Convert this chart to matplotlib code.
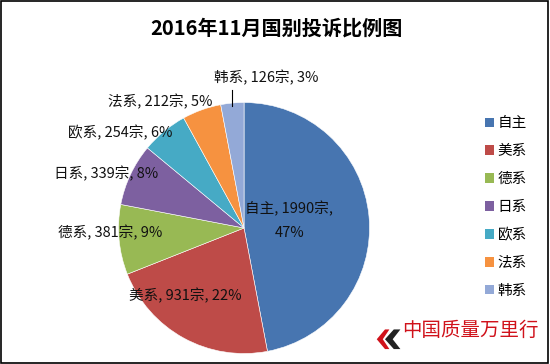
import matplotlib.pyplot as plt
from matplotlib.patches import Rectangle, Polygon

plt.rcParams['font.family'] = ['Noto Sans CJK SC', 'DejaVu Sans']

categories = ["自主", "美系", "德系", "日系", "欧系", "法系", "韩系"]
counts = [1990, 931, 381, 339, 254, 212, 126]
percents = [47, 22, 9, 8, 6, 5, 3]
colors = ["#4775b0", "#be4b48", "#98b954", "#7d60a0", "#46aac5", "#f69240", "#93a9d7"]
title = "2016年11月国别投诉比例图"

# label anchor points in pie data units (radius 1)
label_pos = [(0.36, 0.06), (-0.47, -0.54), (-1.07, -0.04), (-1.10, 0.43),
             (-0.99, 0.76), (-0.67, 1.01), (0.18, 1.20)]

fig = plt.figure(figsize=(5.5, 3.64), dpi=100)
ax = fig.add_axes([0.2155, 0.0288, 0.4564, 0.6896])
wedges, _ = ax.pie(counts, colors=colors, startangle=90, counterclock=False,
                   wedgeprops=dict(edgecolor="white", linewidth=0.4))
ax.set_xlim(-1, 1); ax.set_ylim(-1, 1)
ax.set_aspect("auto")

for name, n, p, (x, y) in zip(categories, counts, percents, label_pos):
    if name == "自主":
        text = f"{name}, {n}宗,\n{p}%"
    else:
        text = f"{name}, {n}宗, {p}%"
    ax.text(x, y, text, ha="center", va="center", fontsize=10.5, color="#111111",
            linespacing=1.9, clip_on=False)

# leader line for the smallest slice
ax.plot([-0.095, -0.095], [0.97, 1.10], color="black", lw=0.8, clip_on=False)

fig.text(0.502, 0.922, title, ha="center", va="center", fontsize=14.5, fontweight="bold")

handles = [Rectangle((0, 0), 1, 1, facecolor=c) for c in colors]
fig.legend(handles, categories, loc="upper left", bbox_to_anchor=(0.868, 0.700),
           frameon=False, fontsize=10.5, handlelength=0.65, handleheight=0.65,
           handletextpad=0.25, labelspacing=0.95, borderpad=0)

# logo at bottom right
fig.patches.append(Polygon([[0.700, 0.095], [0.685, 0.068], [0.700, 0.041], [0.708, 0.041],
                            [0.696, 0.068], [0.708, 0.095]], closed=True,
                           facecolor="#d0121b", transform=fig.transFigure))
fig.patches.append(Polygon([[0.716, 0.095], [0.700, 0.068], [0.716, 0.041], [0.728, 0.041],
                            [0.714, 0.068], [0.728, 0.095]], closed=True,
                           facecolor="#222222", transform=fig.transFigure))
fig.text(0.855, 0.092, "中国质量万里行", ha="center", va="center", fontsize=14,
         color="#d0121b", fontweight="medium")

fig.patches.append(Rectangle((0.001, 0.002), 0.996, 0.995, fill=False, edgecolor="black",
                             linewidth=1.2, transform=fig.transFigure))

fig.savefig("out.png", dpi=100)
